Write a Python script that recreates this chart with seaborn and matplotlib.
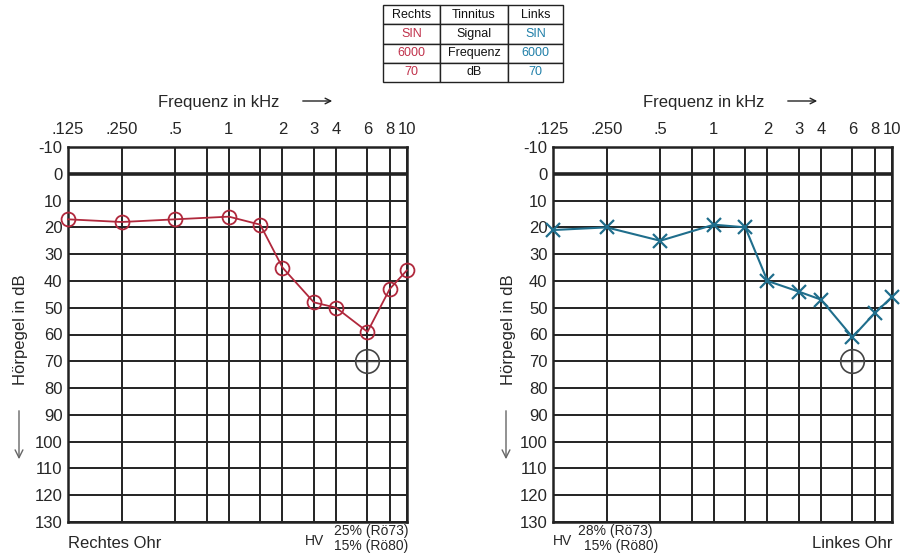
import matplotlib
matplotlib.use("Agg")
import matplotlib.pyplot as plt
import seaborn as sns
import numpy as np

# ---- data ----
freqs = [0.125, 0.25, 0.5, 1, 1.5, 2, 3, 4, 6, 8, 10]
right_ear = [17, 18, 17, 16, 19, 35, 48, 50, 59, 43, 36]
left_ear = [21, 20, 25, 19, 20, 40, 44, 47, 61, 52, 46]
grid_freqs = [0.125, 0.25, 0.5, 0.75, 1, 1.5, 2, 3, 4, 6, 8, 10]
grid_labels = [".125", ".250", ".5", "", "1", "", "2", "3", "4", "6", "8", "10"]
db_ticks = list(range(-10, 131, 10))
tinnitus_freq = [6]
tinnitus_db = [70]
table_rows = [["Rechts", "Tinnitus", "Links"],
              ["SIN", "Signal", "SIN"],
              ["6000", "Frequenz", "6000"],
              ["70", "dB", "70"]]
hv_right = ["25% (Rö73)", "15% (Rö80)"]
hv_left = ["28% (Rö73)", "15% (Rö80)"]

sns.set_theme(style="white")
plt.rcParams['font.family'] = ['Liberation Sans', 'DejaVu Sans']

W, H = 914, 555
fig = plt.figure(figsize=(W / 100, H / 100), dpi=100)

red = "#b0283c"
blue = "#1f6e8c"
gray = "#444444"


def px_axes(x0, y0, x1, y1):
    return fig.add_axes([x0 / W, 1 - y1 / H, (x1 - x0) / W, (y1 - y0) / H])


axL = px_axes(68, 147, 407, 522)
axR = px_axes(553, 147, 892, 522)

sns.lineplot(x=freqs, y=right_ear, ax=axL, color=red, lw=1.3, marker='o',
             markersize=10, markerfacecolor='none', markeredgecolor=red,
             markeredgewidth=1.3, zorder=3, clip_on=False)
sns.lineplot(x=freqs, y=left_ear, ax=axR, color=blue, lw=1.5, marker='x',
             markersize=10, markeredgecolor=blue, markeredgewidth=1.6, zorder=3,
             clip_on=False)

for ax in (axL, axR):
    sns.lineplot(x=tinnitus_freq, y=tinnitus_db, ax=ax, marker='o', markersize=17,
                 markerfacecolor='none', markeredgecolor=gray, markeredgewidth=1.2,
                 color=gray, lw=0, zorder=4)
    sns.lineplot(x=tinnitus_freq, y=tinnitus_db, ax=ax, marker='+', markersize=17,
                 markeredgecolor=gray, markeredgewidth=1.0, color=gray, lw=0, zorder=4)


def setup(ax):
    ax.set_xscale('log')
    ax.set_xlim(0.125, 10)
    ax.set_ylim(130, -10)
    ax.set_yticks(db_ticks)
    ax.set_yticklabels([str(t) for t in db_ticks], fontsize=12)
    ax.set_xticks(grid_freqs)
    ax.set_xticklabels(grid_labels, fontsize=12)
    ax.xaxis.set_minor_locator(matplotlib.ticker.NullLocator())
    ax.xaxis.tick_top()
    ax.tick_params(axis='both', which='both', length=0, pad=4)
    ax.tick_params(axis='x', pad=7)
    for f in grid_freqs:
        ax.axvline(f, color='#222222', lw=1.4, zorder=1)
    for d in db_ticks:
        ax.axhline(d, color='#222222', lw=2.6 if d == 0 else 1.4, zorder=1)
    for s in ax.spines.values():
        s.set_color('#222222')
        s.set_linewidth(1.8)
    ax.set_xlabel("")
    ax.set_ylabel("")


for ax in (axL, axR):
    setup(ax)


def ftext(x, y, s, **kw):
    fig.text(x / W, 1 - y / H, s, **kw)


for x0 in (158, 643):
    ftext(x0, 103, "Frequenz in kHz", fontsize=12, ha='left', va='center')
    fig.add_artist(matplotlib.patches.FancyArrowPatch(
        ((x0 + 142) / W, 1 - 101 / H), ((x0 + 177) / W, 1 - 101 / H),
        transform=fig.transFigure, arrowstyle='->', mutation_scale=10,
        color='#222222', lw=1.0))

for x0 in (21, 508):
    ftext(x0, 330, "Hörpegel in dB", fontsize=12, rotation=90, ha='center', va='center')
    fig.add_artist(matplotlib.patches.FancyArrowPatch(
        ((x0 - 2) / W, 1 - 408 / H), ((x0 - 2) / W, 1 - 462 / H),
        transform=fig.transFigure, arrowstyle='->', mutation_scale=14,
        color='#666666', lw=1.0))

ftext(68, 543, "Rechtes Ohr", fontsize=12, ha='left', va='center')
ftext(892, 543, "Linkes Ohr", fontsize=12, ha='right', va='center')
ftext(305, 541, "HV", fontsize=10, ha='left', va='center')
ftext(408, 531, hv_right[0], fontsize=10, ha='right', va='center')
ftext(408, 546, hv_right[1], fontsize=10, ha='right', va='center')
ftext(553, 541, "HV", fontsize=10, ha='left', va='center')
ftext(578, 531, hv_left[0], fontsize=10, ha='left', va='center')
ftext(584, 546, hv_left[1], fontsize=10, ha='left', va='center')

# tinnitus table
axT = px_axes(383, 5, 563, 82)
axT.axis('off')
tbl = axT.table(cellText=table_rows, cellLoc='center', loc='center',
                bbox=[0, 0, 1, 1], colWidths=[57, 68, 55])
tbl.auto_set_font_size(False)
tbl.set_fontsize(9)
for (r, c), cell in tbl.get_celld().items():
    cell.set_edgecolor('#222222')
    cell.set_linewidth(1.0)
    if r > 0 and c == 0:
        cell.get_text().set_color('#c0304a')
    elif r > 0 and c == 2:
        cell.get_text().set_color('#1f7fa8')
    else:
        cell.get_text().set_color('#111111')

fig.savefig("out.png", dpi=100)
